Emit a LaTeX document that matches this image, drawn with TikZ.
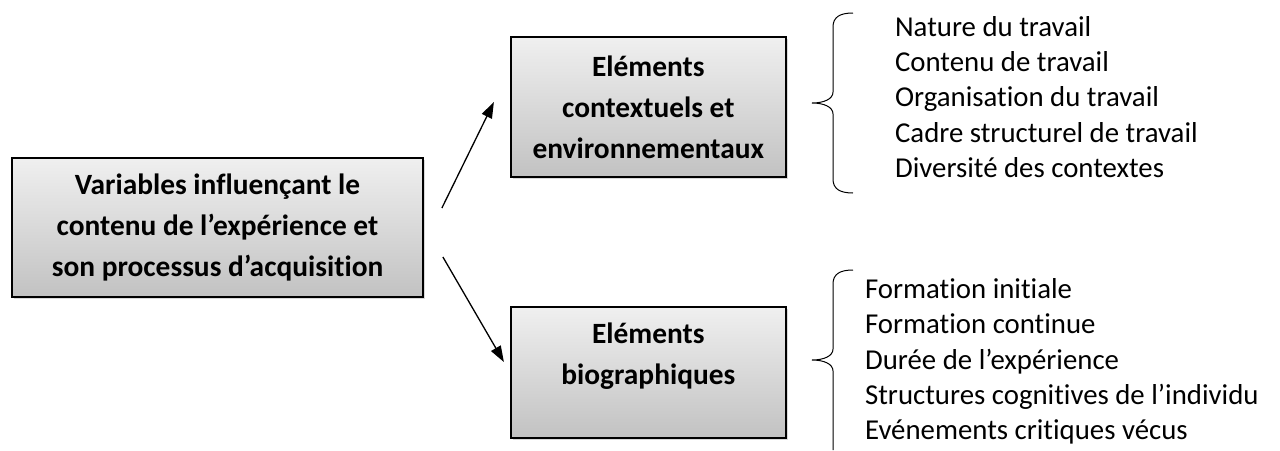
\documentclass[tikz,border=0pt]{standalone}
\usepackage{fontspec}
\setmainfont{Carlito}[RawFeature={-liga}]
\usetikzlibrary{positioning, arrows.meta, shadows}
\tikzset{
>={Triangle[length=8pt, width=5.5pt]}, % filled arrow heads
box/.style={draw, line width=0.9pt, top color=gray!12, bottom color=gray!48, align=center, font=\bfseries\fontsize{14.7}{20.5}\selectfont, drop shadow={shadow xshift=1.2pt, shadow yshift=-1.2pt, opacity=0.3}}, % grey shaded boxes
itemlist/.style={align=left, inner sep=0pt, font=\fontsize{14.4}{17.7}\selectfont}, % the lists on the right
link/.style={->, line width=0.65pt},
bracket/.style={line width=0.5pt},
}

\begin{document}
\begin{tikzpicture}[x=0.5pt, y=-0.5pt]
    \useasboundingbox (0,0) rectangle (1280,450);
    \node[box, minimum width=205.5pt, minimum height=69.5pt] (main) at (217.5,227.5) {Variables influençant le\\contenu de l’expérience et\\son processus d’acquisition};
    \node[box, minimum width=137.5pt, minimum height=70pt, right=43pt of main, yshift=60.25pt] (context) {Eléments\\contextuels et\\environnementaux};
    \node[box, minimum width=137.5pt, minimum height=65.5pt, right=43pt of main, yshift=-72.5pt] (bio) {Eléments\\biographiques\\[-2pt]\mbox{}};
    \node[itemlist, right=54pt of context, yshift=5pt] (contextlist) {Nature du travail\\Contenu de travail\\Organisation du travail\\Cadre structurel de travail\\Diversité des contextes};
    \node[itemlist, right=39pt of bio, yshift=5.5pt] (biolist) {Formation initiale\\Formation continue\\Durée de l’expérience\\Structures cognitives de l’individu\\Evénements critiques vécus};
    \draw[link] ([xshift=9pt, yshift=9.75pt]main.east) -- ([xshift=-8pt, yshift=2.5pt]context.west);
    \draw[link] ([xshift=9.5pt, yshift=-14.75pt]main.east) -- ([xshift=-3pt, yshift=5.25pt]bio.west);
    % brackets
    \draw[bracket] (853,13) .. controls (840,13) and (833,17) .. (833,27) -- (833,92) .. controls (833,99) and (824,103) .. (812,103) .. controls (824,103) and (833,107) .. (833,114) -- (833,179) .. controls (833,189) and (840,193) .. (853,193);
    \draw[bracket] (853,270) .. controls (840,270) and (833,274) .. (833,284) -- (833,349) .. controls (833,356) and (824,360) .. (812,360) .. controls (824,360) and (833,364) .. (833,371) -- (833,450);
\end{tikzpicture}
\end{document}
